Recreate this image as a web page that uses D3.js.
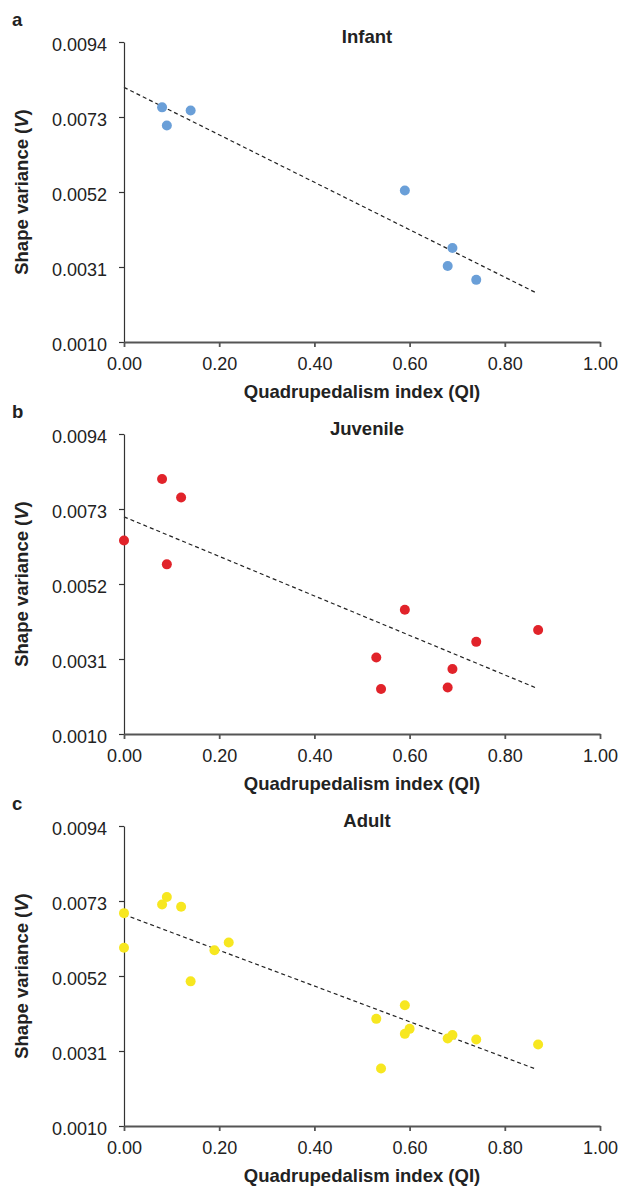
<!DOCTYPE html>
<html>
<head>
<meta charset="utf-8">
<script src="https://cdn.jsdelivr.net/npm/d3@7"></script>
<style>
  body { margin: 0; background: #fff; }
  svg { display: block; font-family: "Liberation Sans", Arial, sans-serif; }
  .axis text { font-size: 18px; fill: #222; }
  .yAxis path, .yAxis line { stroke: #333; stroke-width: 1.2; }
  .xAxis path, .xAxis line { stroke: #555; stroke-width: 1.8; }
  .label { font-size: 18.5px; font-weight: bold; fill: #222; }
</style>
</head>
<body>
<div class="wrapper"></div>
<script>
// dimensions of the whole figure and of each panel
var totalW = 623,
  totalH = 1186,
  plotLeft = 124,
  plotRight = 600,
  panelH = 300,
  panelTops = [42, 434, 826];

// data: quadrupedalism index (QI) vs shape variance (V)
var infantQI = [0.08, 0.09, 0.14, 0.59, 0.69, 0.68, 0.74];
var infantV = [0.00757, 0.00706, 0.00748, 0.00524, 0.00363, 0.00313, 0.00274];
var infantFit = [[0, 0.00813], [0.867, 0.00237]];

var juvenileQI = [0.08, 0.12, 0.0, 0.09, 0.59, 0.87, 0.74, 0.53, 0.69, 0.54, 0.68];
var juvenileV = [0.00814, 0.00762, 0.00642, 0.00575, 0.00448, 0.00391, 0.00358, 0.00314, 0.00282, 0.00226, 0.0023];
var juvenileFit = [[0, 0.00708], [0.864, 0.0023]];

var adultQI = [0.09, 0.08, 0.12, 0.0, 0.0, 0.22, 0.19, 0.14, 0.59, 0.53, 0.6, 0.59, 0.69, 0.68, 0.74, 0.87, 0.54];
var adultV = [0.00741, 0.0072, 0.00714, 0.00696, 0.00599, 0.00614, 0.00592, 0.00505, 0.00438, 0.004, 0.00372, 0.00358, 0.00355, 0.00345, 0.00342, 0.00328, 0.00261];
var adultFit = [[0, 0.00692], [0.864, 0.0026]];

var panelLetters = ["a", "b", "c"];
var panelTitles = ["Infant", "Juvenile", "Adult"];
var panelColors = ["#6a9fd8", "#e1232a", "#f7e720"];

var xTicks = [0, 0.2, 0.4, 0.6, 0.8, 1.0];
var yTicks = [0.001, 0.0031, 0.0052, 0.0073, 0.0094];

var panels = [
  { qi: infantQI, v: infantV, fit: infantFit },
  { qi: juvenileQI, v: juvenileV, fit: juvenileFit },
  { qi: adultQI, v: adultV, fit: adultFit }
];

var svg = d3
  .select(".wrapper")
  .append("svg")
  .attr("width", totalW)
  .attr("height", totalH);

var x = d3.scaleLinear().domain([0, 1]).range([plotLeft, plotRight]);

panels.forEach(function(p, i) {
  var top = panelTops[i];
  var y = d3
    .scaleLinear()
    .domain([0.001, 0.0094])
    .range([top + panelH, top]);

  var g = svg.append("g").attr("class", "panel");

  // panel letter
  g.append("text")
    .attr("class", "label")
    .attr("x", 12)
    .attr("y", top - 16)
    .text(panelLetters[i]);

  // title
  g.append("text")
    .attr("class", "label")
    .attr("x", 367)
    .attr("y", top + 1)
    .attr("text-anchor", "middle")
    .text(panelTitles[i]);

  // regression line
  g.append("path")
    .datum(p.fit)
    .attr("fill", "none")
    .attr("stroke", "#222")
    .attr("stroke-width", 1.2)
    .attr("stroke-dasharray", "4,3")
    .attr(
      "d",
      d3
        .line()
        .x(function(d) { return x(d[0]); })
        .y(function(d) { return y(d[1]); })
    );

  // axes
  g.append("g")
    .attr("class", "axis yAxis")
    .attr("transform", "translate(" + plotLeft + ",0)")
    .call(
      d3.axisLeft(y)
        .tickValues(yTicks)
        .tickFormat(d3.format(".4f"))
        .tickSize(5)
        .tickSizeOuter(0)
        .tickPadding(12)
    )
    .selectAll("text")
    .attr("dy", "0.45em");

  g.append("g")
    .attr("class", "axis xAxis")
    .attr("transform", "translate(0," + (top + panelH) + ")")
    .call(
      d3.axisBottom(x)
        .tickValues(xTicks)
        .tickFormat(d3.format(".2f"))
        .tickSize(5)
        .tickSizeOuter(0)
        .tickPadding(10)
    );

  g.selectAll(".domain").attr("fill", "none");

  // points
  g.selectAll("circle")
    .data(p.qi)
    .enter()
    .append("circle")
    .attr("cx", function(d) { return x(d); })
    .attr("cy", function(d, j) { return y(p.v[j]); })
    .attr("r", 5)
    .attr("fill", panelColors[i]);

  // x axis label
  g.append("text")
    .attr("class", "label")
    .attr("x", (plotLeft + plotRight) / 2)
    .attr("y", top + panelH + 56)
    .attr("text-anchor", "middle")
    .text("Quadrupedalism index (QI)");

  // y axis label
  var yl = g.append("text")
    .attr("class", "label")
    .attr("text-anchor", "middle")
    .attr("transform", "translate(28," + (top + panelH / 2) + ") rotate(-90)");
  yl.append("tspan").text("Shape variance (");
  yl.append("tspan").attr("font-style", "italic").text("V");
  yl.append("tspan").text(")");
});
</script>
</body>
</html>
